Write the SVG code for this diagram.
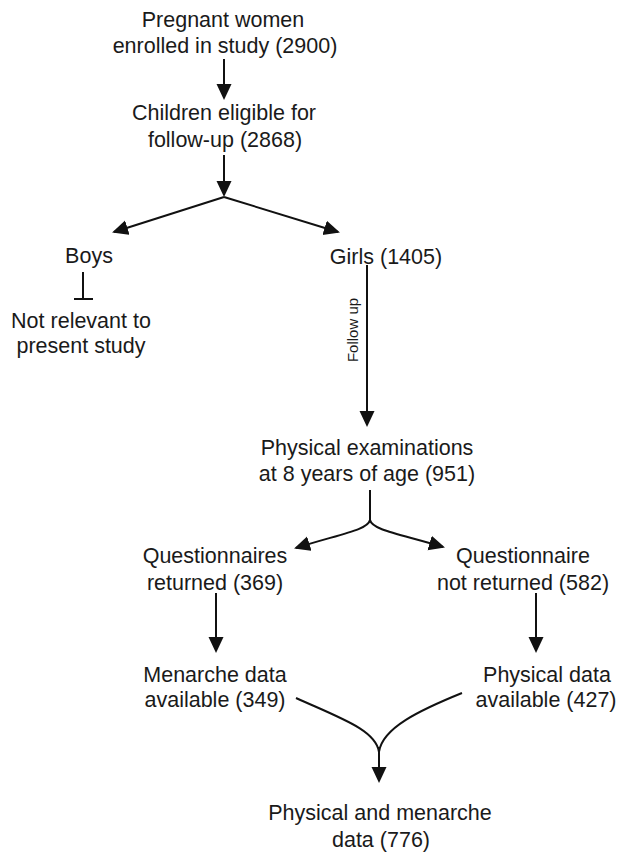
<svg xmlns="http://www.w3.org/2000/svg" width="620" height="852" viewBox="0 0 620 852">
  <style>
    .t { font-family: "Liberation Sans", Arial, Helvetica, sans-serif; font-size: 21.5px; fill: #1a1a1a; text-anchor: middle; }
    .s { font-family: "Liberation Sans", Arial, Helvetica, sans-serif; font-size: 15px; fill: #1a1a1a; text-anchor: middle; }
    .c { fill: none; stroke: #111; stroke-width: 2; }
    .a { fill: none; stroke: #111; stroke-width: 2; marker-end: url(#ah); }
  </style>
  <defs>
    <marker id="ah" markerUnits="userSpaceOnUse" markerWidth="17" markerHeight="16" refX="14" refY="7.5" orient="auto" viewBox="0 0 17 16">
      <path d="M0,0 L16,7.5 L0,15 z" fill="#111"/>
    </marker>
  </defs>
  <rect width="620" height="852" fill="#fff"/>

  <g id="connectors">
    <line class="a" x1="224" y1="59" x2="224" y2="98"/>
    <line class="c" x1="224" y1="155" x2="224" y2="190"/>
    <line class="a" x1="224" y1="155" x2="224" y2="195"/>
    <line class="a" x1="224" y1="197" x2="114" y2="232"/>
    <line class="a" x1="224" y1="197" x2="338" y2="232"/>
    <line class="c" x1="83" y1="272" x2="83" y2="299"/>
    <line class="c" x1="74" y1="299" x2="93" y2="299"/>
    <line class="a" x1="367" y1="265" x2="367" y2="425"/>
    <path class="c" d="M370,490 L370,520"/>
    <path class="a" d="M370,520 C368,530 340,534 296,548"/>
    <path class="a" d="M370,520 C372,530 400,534 443,547"/>
    <line class="a" x1="216" y1="593" x2="216" y2="651"/>
    <line class="a" x1="536" y1="593" x2="536" y2="651"/>
    <path class="c" d="M296,698 C340,718 376,730 379,752"/>
    <path class="c" d="M462,693 C420,710 382,728 379,752"/>
    <line class="a" x1="379" y1="747" x2="379" y2="781"/>
  </g>

  <g id="n-pregnant">
    <text class="t" x="223" y="27">Pregnant women</text>
    <text class="t" x="225" y="53">enrolled in study (2900)</text>
  </g>
  <g id="n-children">
    <text class="t" x="224" y="120">Children eligible for</text>
    <text class="t" x="225" y="147">follow-up (2868)</text>
  </g>
  <g id="n-boys">
    <text class="t" x="89" y="263">Boys</text>
  </g>
  <g id="n-notrelevant">
    <text class="t" x="81" y="328">Not relevant to</text>
    <text class="t" x="81" y="353">present study</text>
  </g>
  <g id="n-girls">
    <text class="t" x="386" y="264">Girls (1405)</text>
  </g>
  <g id="l-followup">
    <text class="s" transform="translate(358,330) rotate(-90)">Follow up</text>
  </g>
  <g id="n-physexam">
    <text class="t" x="367" y="455">Physical examinations</text>
    <text class="t" x="367" y="481">at 8 years of age (951)</text>
  </g>
  <g id="n-qreturned">
    <text class="t" x="215" y="563">Questionnaires</text>
    <text class="t" x="215" y="590">returned (369)</text>
  </g>
  <g id="n-qnotreturned">
    <text class="t" x="523" y="563">Questionnaire</text>
    <text class="t" x="523" y="590">not returned (582)</text>
  </g>
  <g id="n-menarche">
    <text class="t" x="215" y="682">Menarche data</text>
    <text class="t" x="215" y="707">available (349)</text>
  </g>
  <g id="n-physdata">
    <text class="t" x="547" y="682">Physical data</text>
    <text class="t" x="546" y="707">available (427)</text>
  </g>
  <g id="n-combined">
    <text class="t" x="380" y="820">Physical and menarche</text>
    <text class="t" x="381" y="847">data (776)</text>
  </g>
</svg>
